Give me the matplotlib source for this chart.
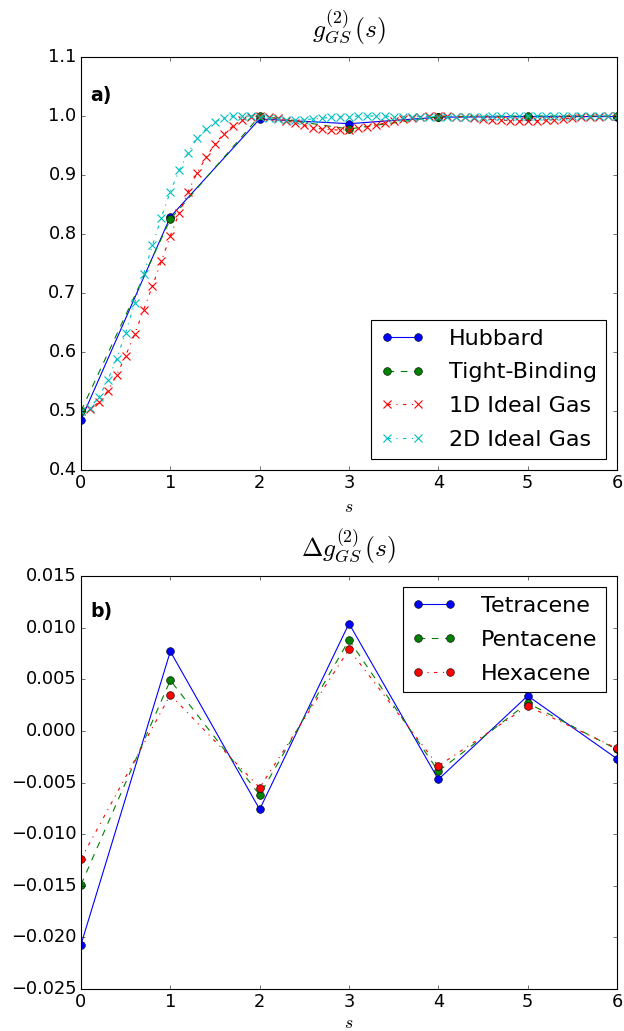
import numpy as np
import matplotlib
matplotlib.use('Agg')
import matplotlib.pyplot as plt

plt.style.use('classic')

# Lattice sites for the Hubbard / tight-binding results
s_sites = [0, 1, 2, 3, 4, 5, 6]
hubbard = [0.485, 0.829, 0.995, 0.987, 0.998, 0.999, 0.999]
tight_binding = [0.500, 0.825, 1.000, 0.978, 0.999, 1.000, 1.000]

# Continuous ideal gas curves sampled every 0.1
s_gas = np.round(np.arange(61) * 0.1, 1)
gas_1d = [0.500, 0.503, 0.515, 0.534, 0.561, 0.594, 0.630, 0.671, 0.712, 0.754,
          0.797, 0.836, 0.872, 0.904, 0.930, 0.953, 0.970, 0.983, 0.993, 0.998,
          1.000, 0.999, 0.996, 0.992, 0.988, 0.984, 0.980, 0.978, 0.977, 0.976,
          0.977, 0.979, 0.982, 0.985, 0.988, 0.992, 0.995, 0.997, 0.999, 1.000,
          1.000, 1.000, 0.999, 0.998, 0.996, 0.995, 0.994, 0.993, 0.992, 0.992,
          0.992, 0.992, 0.993, 0.994, 0.995, 0.997, 0.998, 0.999, 0.999, 1.000,
          1.000]
gas_2d = [0.500, 0.505, 0.524, 0.552, 0.589, 0.633, 0.683, 0.732, 0.781, 0.828,
          0.872, 0.908, 0.938, 0.962, 0.978, 0.990, 0.997, 1.000, 1.000, 1.000,
          0.999, 0.997, 0.995, 0.994, 0.993, 0.994, 0.995, 0.996, 0.998, 0.999,
          0.999, 1.000, 1.000, 1.000, 1.000, 0.999, 0.999, 0.999, 0.999, 0.999,
          0.999, 0.999, 0.999, 0.999, 0.999, 0.999, 1.000, 1.000, 1.000, 1.000,
          1.000, 1.000, 1.000, 1.000, 1.000, 1.000, 1.000, 1.000, 1.000, 1.000,
          1.000]

# Differences for the acenes
tetracene = [-0.0207, 0.0077, -0.0076, 0.0104, -0.0047, 0.0034, -0.0027]
pentacene = [-0.0149, 0.0049, -0.0062, 0.0088, -0.0039, 0.0027, -0.0018]
hexacene = [-0.0124, 0.0035, -0.0055, 0.0079, -0.0034, 0.0024, -0.0017]

DPI = 80
fig = plt.figure(figsize=(624 / DPI, 1031 / DPI), dpi=DPI)
fig.patch.set_facecolor('white')

ax1 = fig.add_axes([0.1298, 0.5441, 0.8590, 0.4006])
ax2 = fig.add_axes([0.1298, 0.0407, 0.8590, 0.4006])

leg_kw = dict(fontsize=20, numpoints=2, handlelength=2.0, handletextpad=1.1,
              labelspacing=0.62, borderpad=0.4)

# Panel a)
ax1.plot(s_sites, hubbard, 'b-o', ms=7, label='Hubbard')
ax1.plot(s_sites, tight_binding, 'g--o', ms=7, label='Tight-Binding')
ax1.plot(s_gas, gas_1d, 'r-.x', ms=7, mew=1, label='1D Ideal Gas')
ax1.plot(s_gas, gas_2d, 'c-.x', ms=7, mew=1, label='2D Ideal Gas')
ax1.set_xlim(0, 6)
ax1.set_ylim(0.4, 1.1)
ax1.set_yticks(np.arange(0.4, 1.11, 0.1))
ax1.set_title(r'$g^{(2)}_{GS}\,(s)$', fontsize=23, pad=18)
ax1.set_xlabel(r'$s$', fontsize=16, labelpad=5)
ax1.text(0.018, 0.907, 'a)', transform=ax1.transAxes, fontsize=17,
         fontweight='bold', va='center')
ax1.legend(loc='lower right', **leg_kw)

# Panel b)
ax2.plot(s_sites, tetracene, 'b-o', ms=7, label='Tetracene')
ax2.plot(s_sites, pentacene, 'g--o', ms=7, label='Pentacene')
ax2.plot(s_sites, hexacene, 'r-.o', ms=7, label='Hexacene')
ax2.set_xlim(0, 6)
ax2.set_ylim(-0.025, 0.015)
ax2.set_title(r'$\Delta g^{(2)}_{GS}\,(s)$', fontsize=23, pad=18)
ax2.set_xlabel(r'$s$', fontsize=16, labelpad=2)
ax2.text(0.018, 0.915, 'b)', transform=ax2.transAxes, fontsize=17,
         fontweight='bold', va='center')
ax2.legend(loc='upper right', **leg_kw)

for ax in (ax1, ax2):
    ax.tick_params(labelsize=16)

fig.savefig('out.png', dpi=DPI, facecolor='white')
